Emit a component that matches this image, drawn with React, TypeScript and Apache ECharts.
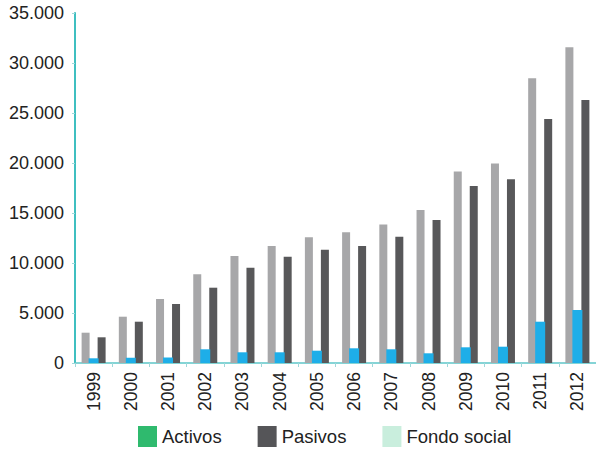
import React, { useEffect, useRef } from "react";
import * as echarts from "echarts";

const years = ["1999","2000","2001","2002","2003","2004","2005","2006","2007","2008","2009","2010","2011","2012"];
const activos = [3030, 4630, 6400, 8870, 10700, 11700, 12570, 13070, 13850, 15300, 19150, 19950, 28470, 31570];
const pasivos = [2570, 4130, 5900, 7530, 9530, 10630, 11330, 11700, 12630, 14300, 17700, 18380, 24400, 26300];
const fondoSocial = [470, 530, 550, 1370, 1070, 1070, 1230, 1470, 1370, 970, 1570, 1630, 4130, 5300];

const yTicks = { min: 0, max: 35000, interval: 5000 };

export default function App() {
  const ref = useRef<HTMLDivElement>(null);
  useEffect(() => {
    const chart = echarts.init(ref.current!, null, { renderer: "svg" });
    const font = "Arial";
    chart.setOption({
      animation: false,
      textStyle: { fontFamily: font },
      grid: { left: 75, top: 13, bottom: 88, width: 530 },
      legend: {
        top: 421,
        left: 133,
        icon: "rect",
        itemWidth: 19,
        itemHeight: 21,
        itemGap: 36,
        textStyle: { fontSize: 18.5, color: "#222", fontFamily: font },
        data: [
          { name: "Activos", itemStyle: { color: "#2fba6e" } },
          { name: "Pasivos", itemStyle: { color: "#555558" } },
          { name: "Fondo social", itemStyle: { color: "#c9eedd" } },
        ],
      },
      xAxis: [
        {
          type: "category",
          data: years,
          axisLine: { lineStyle: { color: "#5cc6c8", width: 1.5 } },
          axisTick: { show: true, length: 4, lineStyle: { color: "#9fd8da" } },
          axisLabel: { rotate: 90, fontSize: 17.5, color: "#222", margin: 9, fontFamily: font },
        },
        {
          type: "category",
          data: years,
          show: false,
        },
      ],
      yAxis: {
        type: "value",
        min: yTicks.min,
        max: yTicks.max,
        interval: yTicks.interval,
        axisLine: { show: true, lineStyle: { color: "#3fbfc0", width: 2 } },
        axisTick: { show: true, length: 3, lineStyle: { color: "#9fd8da" } },
        splitLine: { show: false },
        axisLabel: {
          fontSize: 18,
          color: "#222",
          margin: 11,
          fontFamily: font,
          formatter: (v: number) => v.toLocaleString("de-DE"),
        },
      },
      series: [
        {
          name: "Activos",
          type: "bar",
          data: activos,
          barWidth: 8,
          barGap: "100%",
          itemStyle: { color: "#a7a7a9" },
        },
        {
          name: "Pasivos",
          type: "bar",
          data: pasivos,
          barWidth: 8,
          barGap: "100%",
          itemStyle: { color: "#58585a" },
        },
        {
          name: "Fondo social",
          type: "bar",
          xAxisIndex: 1,
          data: fondoSocial,
          barWidth: 10,
          itemStyle: { color: "#1eaee8" },
        },
      ],
    });
    return () => chart.dispose();
  }, []);
  return <div ref={ref} style={{ width: 596, height: 451, position: "absolute", left: 0, top: 0 }} />;
}
